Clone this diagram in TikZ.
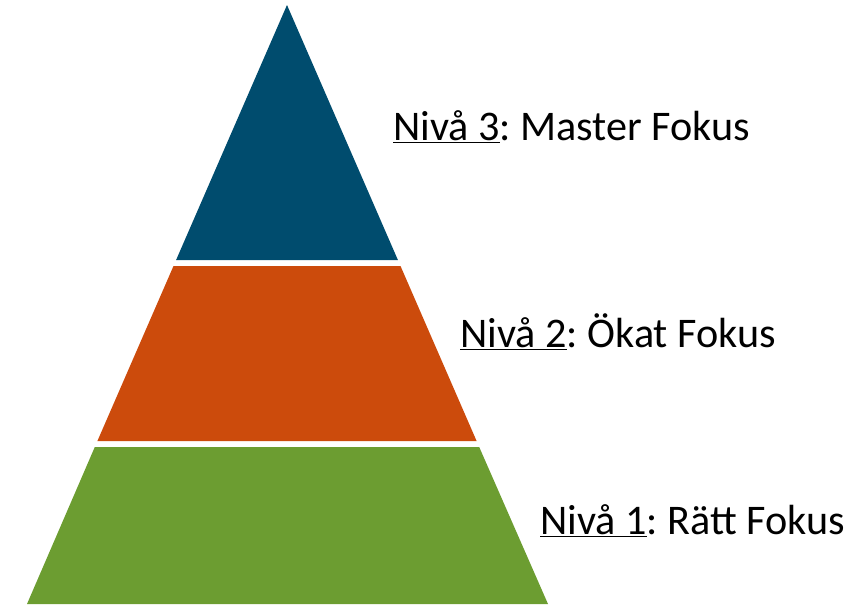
\documentclass[tikz,border=0pt]{standalone}
\usepackage{fontspec}
\setmainfont{Carlito}
\frenchspacing
\definecolor{levelblue}{RGB}{0,76,110}
\definecolor{levelorange}{RGB}{204,75,12}
\definecolor{levelgreen}{RGB}{108,157,49}
\tikzset{levellabel/.style = {anchor = base west, inner sep = 0pt, font = \fontsize{30}{36}\selectfont}}
\begin{document}
\begin{tikzpicture}[x = 0.025cm, y = -0.025cm]
            \useasboundingbox (0,0) rectangle (860,605);

            % Draw the pyramid levels:
            \fill [levelgreen]  (27,604) -- (548,604) -- (479.2,447) -- (94.8,447) -- cycle;
            \fill [levelorange] (97.4,441) -- (476.6,441) -- (400.5,266) -- (173.5,266) -- cycle;
            \fill [levelblue]   (176.1,260) -- (397.9,260) -- (287,5) -- cycle;

            % Draw the level labels:
            \node [levellabel] (Level3) at (393,140) {\underline{Nivå 3}: Master Fokus};
            \node [levellabel] (Level2) at (460,347) {\underline{Nivå 2}: Ökat Fokus};
            \node [levellabel] (Level1) at (540,534) {\underline{Nivå 1}: Rätt Fokus};
        \end{tikzpicture}
\end{document}
